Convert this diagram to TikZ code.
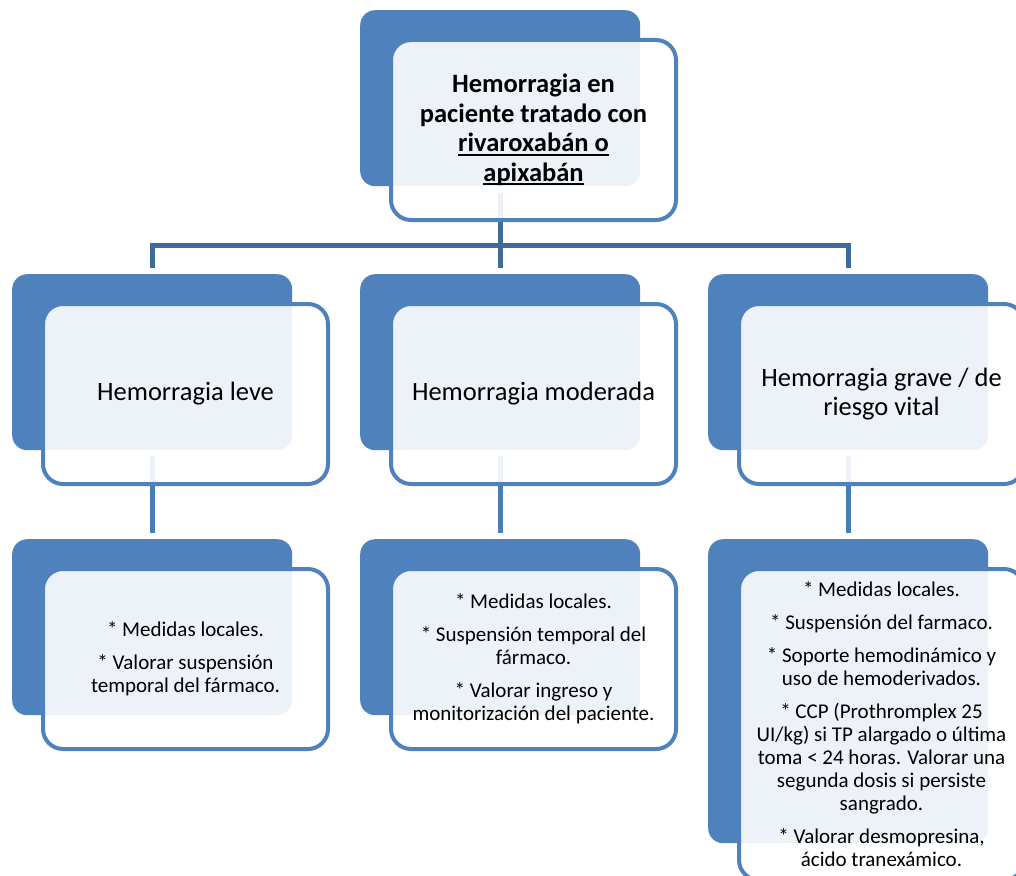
\documentclass[tikz,border=0pt]{standalone}
\usepackage{fontspec}
\setmainfont{Carlito}
\definecolor{bfill}{HTML}{4F81BD}
\definecolor{conntop}{HTML}{3F6B9C}
\definecolor{connlow}{HTML}{4A7CB9}
\newcommand\myul[1]{\setbox0\hbox{#1}\rlap{\rule[-3.8pt]{\wd0}{1.8pt}}\box0}
\tikzset{
  backbox/.style={rectangle, fill=bfill, rounded corners=15pt, inner sep=0pt, anchor=north west, minimum width=280pt, minimum height=176pt},
  frontbox/.style={rectangle, draw=bfill, line width=4pt, fill=white, fill opacity=0.9, text opacity=1, rounded corners=20pt, inner sep=0pt, anchor=north west, minimum width=285pt, minimum height=180pt, align=center},
  conna/.style={draw=conntop, line width=5pt},
  connb/.style={draw=connlow, line width=5pt},
  midtxt/.style={font=\fontsize{26.5}{29}\selectfont},
  lowtxt/.style={font=\fontsize{21}{23}\selectfont},
}
\begin{document}
\begin{tikzpicture}[x=1pt,y=-1pt]
\useasboundingbox (0,0) rectangle (1016,875);
\clip (0,0) rectangle (1016,875);
% back boxes
\node[backbox] (tb) at (360,10) {};
\node[backbox] (ml) at (12,274) {};
\node[backbox] (mm) at (360,274) {};
\node[backbox] (mr) at (708,274) {};
\node[backbox] (bl) at (12,539) {};
\node[backbox] (bm) at (360,539) {};
\node[backbox, minimum height=304pt] (br) at (708,539) {};
% connectors
\coordinate (bar) at (500,245);
\draw[conna] ([yshift=-7pt]tb.south) -- (tb.south |- bar);
\draw[conna] (tb.south |- bar) -| ([yshift=6pt]ml.north);
\draw[conna] (tb.south |- bar) -| ([yshift=6pt]mr.north);
\draw[conna] (tb.south |- bar) -- ([yshift=6pt]mm.north);
\draw[connb] ([yshift=-6pt]ml.south) -- ([yshift=6pt]bl.north);
\draw[connb] ([yshift=-6pt]mm.south) -- ([yshift=6pt]bm.north);
\draw[connb] ([yshift=-6pt]mr.south) -- ([yshift=6pt]br.north);
% front boxes
\node[frontbox, font=\bfseries\fontsize{26.5}{29.5}\selectfont] (tbf) at (389,38) {Hemorragia en\\paciente tratado con\\\myul{rivaroxabán o}\\\myul{apixabán}};
\node[frontbox, midtxt] (mlf) at (41,302) {Hemorragia leve};
\node[frontbox, midtxt] (mmf) at (389,302) {Hemorragia moderada};
\node[frontbox, midtxt] (mrf) at (737,302) {Hemorragia grave / de\\riesgo vital};
\node[frontbox, lowtxt] (blf) at (41,567) {* Medidas locales.\\[10pt]* Valorar suspensión\\temporal del fármaco.};
\node[frontbox, lowtxt] (bmf) at (389,567) {* Medidas locales.\\[10pt]* Suspensión temporal del\\fármaco.\\[10pt]* Valorar ingreso y\\monitorización del paciente.};
\node[frontbox, lowtxt, minimum height=311pt] (brf) at (737,567) {* Medidas locales.\\[10pt]* Suspensión del farmaco.\\[10pt]* Soporte hemodinámico y\\uso de hemoderivados.\\[10pt]* CCP (Prothromplex 25\\UI/kg) si TP alargado o última\\toma < 24 horas. Valorar una\\segunda dosis si persiste\\sangrado.\\[10pt]* Valorar desmopresina,\\ácido tranexámico.};
\end{tikzpicture}
\end{document}
